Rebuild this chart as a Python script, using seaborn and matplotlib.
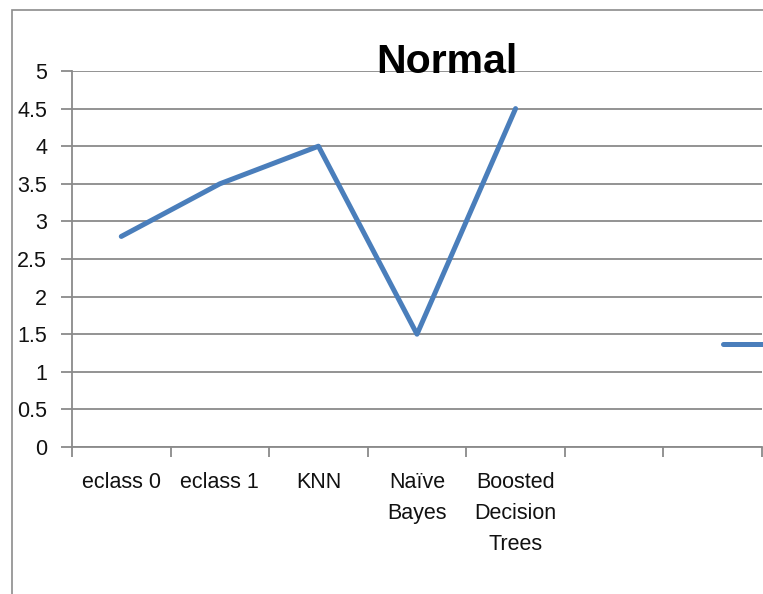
import matplotlib
matplotlib.use("Agg")
import matplotlib.pyplot as plt
from matplotlib.patches import Rectangle
from matplotlib.lines import Line2D
import numpy as np
import pandas as pd
import seaborn as sns

# Model names and their scores
models = ["eclass 0", "eclass 1", "KNN", "Naïve\nBayes", "Boosted\nDecision\nTrees"]
scores = [2.8, 3.5, 4.0, 1.5, 4.5]
# Category slots on the axis (two trailing slots are left empty)
n_slots = 7
y_ticks = [0, 0.5, 1, 1.5, 2, 2.5, 3, 3.5, 4, 4.5, 5]
y_tick_labels = ["0", "0.5", "1", "1.5", "2", "2.5", "3", "3.5", "4", "4.5", "5"]
title = "Normal"

sns.set_theme(style="white")
plt.rcParams["font.family"] = ["Liberation Sans", "DejaVu Sans"]

W, H = 763, 594
fig = plt.figure(figsize=(W / 100, H / 100), dpi=100)
fig.patch.set_facecolor("white")

# outer chart frame
fig.add_artist(Rectangle((12 / W, -0.1), 1.2, (H - 10) / H + 0.1,
                         transform=fig.transFigure, fill=False,
                         edgecolor="#8c8c8c", linewidth=1.2))

ax = fig.add_axes([72 / W, (H - 447) / H, 690 / W, 376 / H])
ax.set_facecolor("white")

df = pd.DataFrame({"pos": np.arange(len(models)), "score": scores})
line_color = "#4a7ebb"
sns.lineplot(data=df, x="pos", y="score", ax=ax, color=line_color,
             linewidth=3.6, solid_capstyle="round", solid_joinstyle="round",
             legend=False)

grid_color = "#8a8a8a"
ax.set_xlim(-0.5, n_slots - 0.5)
ax.set_ylim(0, 5)
ax.set_yticks(y_ticks)
ax.set_yticklabels(y_tick_labels)
ax.yaxis.grid(True, color=grid_color, linewidth=1.3)
ax.xaxis.grid(False)
ax.set_axisbelow(True)

ax.set_xticks(np.arange(n_slots))
ax.set_xticklabels(models + [""] * (n_slots - len(models)))
ax.set_xticks(np.arange(n_slots + 1) - 0.5, minor=True)
ax.tick_params(axis="x", which="major", length=0, pad=18, labelsize=15.5,
               colors="#111111")
ax.tick_params(axis="x", which="minor", length=7, width=1.3, color=grid_color,
               direction="out", bottom=True)
ax.tick_params(axis="y", which="major", length=8, width=1.3, color=grid_color,
               direction="out", left=True, pad=10, labelsize=15.5,
               labelcolor="#111111")
for lab in ax.get_xticklabels():
    lab.set_verticalalignment("top")
    lab.set_horizontalalignment("center")
    lab.set_linespacing(1.62)

ax.set_xlabel("")
ax.set_ylabel("")
for side in ("top", "right"):
    ax.spines[side].set_visible(False)
for side in ("left", "bottom"):
    ax.spines[side].set_color(grid_color)
    ax.spines[side].set_linewidth(1.3)

fig.text(447 / W, (H - 73) / H, title, ha="center", va="baseline",
         fontsize=29.5, fontweight="bold", color="black")

# legend key sits at the right edge of the chart area
handle = Line2D([], [], color=line_color, linewidth=3.6, solid_capstyle="round")
fig.legend([handle], [""], loc="center left",
           bbox_to_anchor=(723 / W, (H - 346) / H), frameon=False,
           borderpad=0, borderaxespad=0, handlelength=3.5, handletextpad=0.6,
           fontsize=15)

fig.savefig("out.png", dpi=100, facecolor="white")
